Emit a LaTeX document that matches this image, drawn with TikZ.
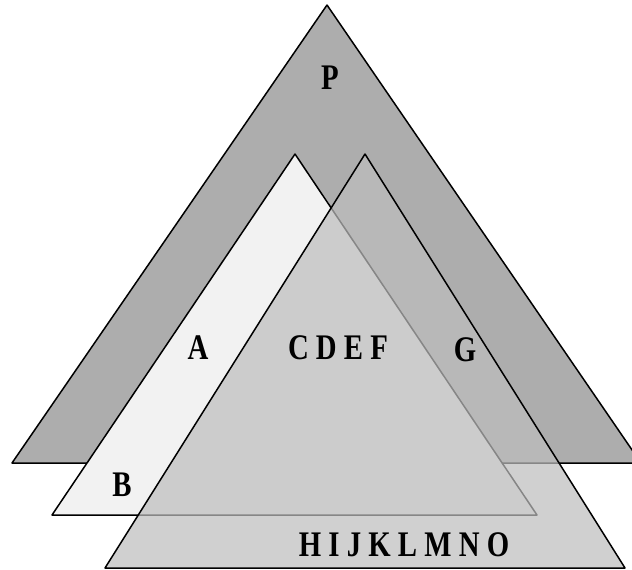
\documentclass[tikz,border=0pt]{standalone}
\usepackage{fontspec}
\setmainfont{Liberation Serif}[FakeStretch=0.8]
\definecolor{tri_dark}{gray}{0.68}
\definecolor{tri_light}{gray}{0.95}
\definecolor{tri_mid}{gray}{0.74}
\tikzset{lbl/.style={font=\bfseries\fontsize{18}{21}\selectfont, inner sep=0pt}}

\begin{document}
\begin{tikzpicture}[x=0.5pt,y=-0.5pt,line join=round,line cap=round,line width=0.75pt]
		\useasboundingbox (0,0) rectangle (632,569);
		\clip (0,0) rectangle (632,569);
		% corners of the three triangles
		\coordinate (p1) at (12,463);   \coordinate (p2) at (641,463);  \coordinate (p3) at (327,5);
		\coordinate (w1) at (52,515);   \coordinate (w2) at (537,515);  \coordinate (w3) at (295,154);
		\coordinate (m1) at (105,568);  \coordinate (m2) at (625,568);  \coordinate (m3) at (365,154);
		\begin{scope}
		\filldraw[fill=tri_dark] (p1) -- (p2) -- (p3) -- cycle;
		\filldraw[fill=tri_light] (w1) -- (w2) -- (w3) -- cycle;
		\fill[tri_mid, fill opacity=0.71] (m1) -- (m2) -- (m3) -- cycle;
		\draw (m1) -- (m2) -- (m3) -- cycle;
		\end{scope}
		\node[lbl] (p)    at (330,78)  {P};
		\node[lbl] (a)    at (198,348) {A};
		\node[lbl] (cdef) at (338,348) {C D E F};
		\node[lbl] (g)    at (465,350) {G};
		\node[lbl] (b)    at (122,485) {B};
		\node[lbl] (hijk) at (404,545) {H I J K L M N O};
	\end{tikzpicture}
\end{document}
